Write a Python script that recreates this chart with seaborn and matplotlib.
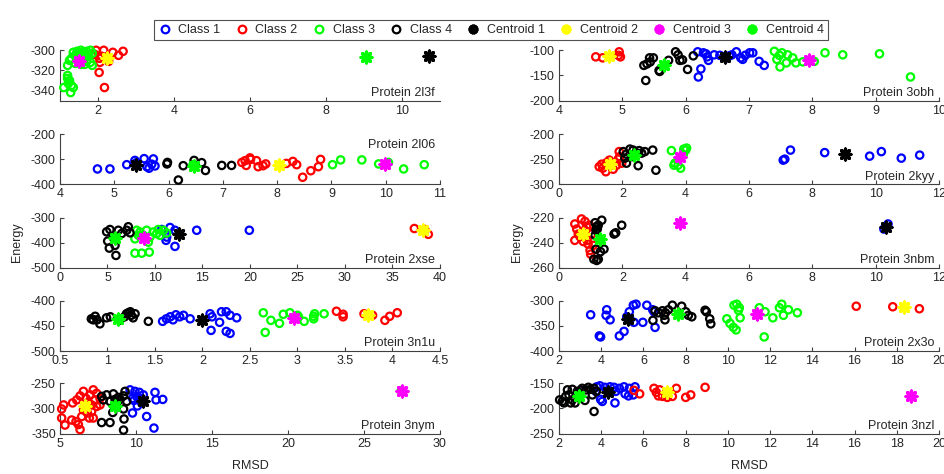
import numpy as np
import pandas as pd
import matplotlib
matplotlib.use("Agg")
import matplotlib.pyplot as plt
from matplotlib.lines import Line2D
from matplotlib.ticker import FuncFormatter
import seaborn as sns

sns.set_style("ticks")
plt.rcParams['font.family'] = ['Liberation Sans', 'DejaVu Sans']
plt.rcParams['axes.unicode_minus'] = False

# class colours and centroid colours, as in the legend
class_colors = ["#0000ff", "#ff0000", "#00ff00", "#000000"]
cent_colors = ["#000000", "#ffff00", "#ff00ff", "#00ff00"]

# ---- Protein 2l3f ----
x_2l3f = {2: [2.15, 2.39, 2.54, 2.66, 2.04, 2.28, 2.03, 2.17, 1.91, 2.05, 2.1, 1.95],
          3: [1.35, 1.45, 1.55, 1.6, 1.7, 1.8, 1.85, 1.4, 1.5, 1.65, 1.75, 1.3, 1.45, 1.6, 1.7, 1.8,
              1.85, 1.55, 1.25, 1.2, 1.4, 1.65, 1.75, 1.5, 1.2, 1.25, 1.22, 1.3, 1.35, 1.1, 1.28, 1.2]}
y_2l3f = {2: [-300, -302, -305, -301, -308, -311, -322, -337, -304, -312, -306, -300],
          3: [-302, -301, -300, -302, -301, -300, -303, -305, -306, -305, -306, -308, -310, -309, -311, -312,
              -315, -314, -310, -315, -313, -314, -304, -303, -325, -330, -333, -335, -337, -337, -342, -328]}
cent_2l3f = [(10.72, -305.7), (2.23, -308), (1.51, -311), (9.05, -307)]

# ---- Protein 2l06 ----
x_2l06 = {1: [4.69, 4.92, 5.23, 5.38, 5.55, 5.72, 5.64, 5.75, 5.69, 5.6, 5.41],
          2: [7.35, 7.43, 7.5, 7.62, 7.65, 7.74, 7.79, 7.51, 8.17, 8.29, 8.36, 8.47, 8.62, 8.76, 8.8, 7.41],
          3: [9.02, 9.17, 9.56, 9.87, 10.05, 10.33, 10.71, 6.45],
          4: [5.98, 5.97, 6.18, 6.27, 6.47, 6.61, 6.68, 6.98, 7.16]}
y_2l06 = {1: [-339, -339, -322, -305, -298, -299, -336, -327, -320, -330, -314],
          2: [-313, -325, -295, -306, -330, -326, -319, -301, -317, -309, -322, -372, -346, -330, -301, -306],
          3: [-322, -303, -303, -319, -313, -339, -322, -322],
          4: [-313, -319, -383, -326, -305, -314, -345, -325, -325]}
cent_2l06 = [(5.4, -322), (8.04, -322), (9.99, -319), (6.47, -326)]

# ---- Protein 2xse ----
x_2xse = {1: [10.7, 11.16, 11.58, 12.1, 11.16, 12.1, 14.39, 19.93, 11.23],
          2: [37.3, 38.77, 38.4],
          3: [8.07, 8.42, 7.89, 8.77, 9.12, 9.47, 9.82, 10.18, 10.53, 10.88, 11.23, 9.3, 7.89, 8.6, 9.4,
              8.25, 10.35],
          4: [4.91, 5.26, 5.61, 6.14, 6.49, 5.02, 5.19, 5.79, 5.89, 7.19, 7.37, 7.02, 5.79]}
y_2xse = {1: [-347, -363, -339, -350, -390, -414, -350, -350, -377],
          2: [-343, -366, -347],
          3: [-350, -357, -384, -370, -350, -377, -357, -363, -370, -350, -361, -397, -441, -441, -437,
              -370, -347],
          4: [-356, -347, -379, -350, -363, -393, -421, -410, -450, -336, -360, -350, -377]}
cent_2xse = [(12.56, -366), (38.25, -350), (8.84, -379), (5.79, -379)]

# ---- Protein 3n1u ----
x_3n1u = {1: [1.58, 1.66, 1.69, 1.72, 1.76, 1.8, 1.87, 2.08, 2.1, 2.2, 2.25, 2.29, 2.36, 2.18, 2.09,
              2.25, 2.29, 1.62],
          2: [3.41, 3.48, 3.7, 3.79, 3.92, 3.97, 4.05, 3.48],
          3: [2.64, 2.72, 2.81, 2.85, 2.92, 3.01, 3.07, 3.17, 3.18, 3.28, 2.66, 3.17, 3.0],
          4: [0.83, 0.87, 0.89, 0.92, 0.99, 1.03, 1.13, 1.18, 1.2, 1.22, 1.25, 1.27, 1.24, 1.29, 1.43, 0.85]}
y_3n1u = {1: [-441, -432, -438, -428, -432, -429, -436, -426, -432, -422, -422, -429, -434, -443, -459,
              -461, -465, -436],
          2: [-421, -432, -426, -429, -439, -431, -424, -427],
          3: [-424, -439, -445, -427, -424, -432, -441, -436, -426, -426, -463, -431, -429],
          4: [-436, -431, -438, -446, -434, -432, -439, -432, -426, -424, -429, -434, -422, -426, -441, -438]}
cent_3n1u = [(2.0, -439), (3.74, -429), (2.96, -434), (1.11, -436)]

# ---- Protein 3nym ----
x_3nym = {1: [9.61, 9.93, 10.22, 9.77, 9.87, 10.04, 10.26, 10.37, 10.09, 9.77, 10.7, 11.25, 11.32,
              11.76, 11.18, 10.48],
          2: [5.11, 5.24, 5.11, 5.33, 5.77, 6.05, 6.32, 6.21, 5.83, 6.1, 6.32, 6.54, 6.71, 6.86, 6.99,
              7.19, 7.41, 7.63, 7.41, 7.08, 6.8, 7.19, 6.93, 6.54, 6.43, 7.63, 7.3, 6.64, 7.08],
          3: [27.45],
          4: [7.74, 8.07, 8.51, 8.84, 9.18, 9.28, 9.39, 7.85, 8.29, 8.62, 7.74, 8.29, 8.47, 9.18, 9.21,
              9.18, 8.73, 8.95]}
y_3nym = {1: [-263, -266, -268, -280, -284, -276, -282, -289, -295, -309, -316, -268, -283, -282, -339, -273],
          2: [-301, -293, -319, -333, -323, -326, -342, -332, -289, -283, -275, -266, -280, -288, -273,
              -263, -270, -280, -296, -306, -309, -319, -319, -303, -316, -293, -283, -296, -293],
          3: [-265],
          4: [-276, -273, -271, -278, -275, -266, -286, -283, -286, -282, -328, -328, -308, -301, -321,
              -343, -288, -282]}
cent_3nym = [(10.48, -286), (6.64, -295), (27.48, -265), (8.62, -295)]

# ---- Protein 3obh ----
x_3obh = {1: [6.19, 6.28, 6.34, 6.36, 6.45, 6.54, 6.6, 6.69, 6.73, 6.8, 6.9, 6.94, 7.01, 7.06, 7.16,
              7.24, 6.24, 6.2, 6.87, 6.32, 6.65],
          2: [4.58, 4.69, 4.94, 4.95, 4.97],
          3: [7.4, 7.44, 7.48, 7.52, 7.59, 7.61, 7.69, 7.74, 7.85, 8.03, 8.2, 8.48, 9.06, 9.55, 7.49],
          4: [5.34, 5.39, 5.43, 5.49, 5.37, 5.58, 5.59, 5.73, 5.84, 5.88, 5.91, 5.95, 6.03, 6.12, 5.44]}
y_3obh = {1: [-103, -105, -113, -120, -109, -110, -113, -111, -109, -103, -118, -110, -105, -105, -122,
              -130, -137, -153, -115, -107, -115],
          2: [-113, -115, -110, -103, -113],
          3: [-102, -118, -110, -105, -125, -109, -115, -125, -123, -122, -105, -109, -107, -153, -133],
          4: [-130, -127, -115, -115, -160, -140, -142, -120, -103, -109, -120, -119, -138, -111, -123]}
cent_3obh = [(6.62, -113), (4.79, -111), (7.95, -120), (5.66, -129)]

# ---- Protein 2kyy ----
x_2kyy = {1: [7.08, 7.13, 7.31, 8.39, 9.81, 10.18, 10.81, 11.39],
          2: [1.27, 1.35, 1.5, 1.48, 1.61, 1.71, 1.82, 1.87, 1.92, 1.9, 1.98, 1.38, 1.59],
          3: [3.55, 3.63, 3.76, 3.84, 3.94, 4.0, 3.92, 3.66, 4.03],
          4: [2.03, 2.13, 2.24, 2.34, 2.43, 2.53, 2.61, 2.71, 2.96, 2.5, 3.06, 2.13, 2.29, 2.08]}
y_2kyy = {1: [-252, -250, -232, -237, -244, -235, -248, -242],
          2: [-265, -260, -257, -275, -263, -270, -262, -250, -245, -235, -258, -268, -252],
          3: [-233, -262, -262, -268, -230, -232, -242, -258, -228],
          4: [-235, -240, -230, -232, -237, -233, -238, -235, -232, -263, -272, -258, -245, -248]}
cent_2kyy = [(9.02, -240), (1.61, -260), (3.82, -245), (2.37, -242)]

# ---- Protein 3nbm ----
x_3nbm = {1: [10.26, 10.39],
          2: [0.5, 0.56, 0.61, 0.71, 0.82, 0.87, 0.96, 0.89, 0.92, 0.98, 1.0, 1.08, 1.03, 0.82, 0.66,
              0.77, 0.5],
          4: [1.14, 1.19, 1.17, 1.14, 1.35, 1.24, 1.21, 1.17, 1.31, 1.42, 1.1, 1.19, 1.24, 1.79, 1.98, 1.74]}
y_3nbm = {1: [-229, -225],
          2: [-225, -229, -233, -221, -223, -227, -226, -238, -241, -246, -249, -242, -233, -230, -235,
              -239, -238],
          4: [-224, -227, -230, -234, -222, -226, -229, -245, -247, -245, -253, -254, -253, -232, -226, -233]}
cent_3nbm = [(10.32, -227), (0.77, -233), (3.82, -224), (1.31, -237)]

# ---- Protein 2x3o ----
x_2x3o = {1: [3.5, 3.91, 3.97, 4.26, 4.23, 4.42, 4.86, 5.08, 5.33, 5.52, 5.65, 5.97, 6.16, 6.44, 6.5,
              6.55, 5.36, 5.55, 5.21],
          2: [16.08, 17.81, 19.07],
          3: [9.95, 10.1, 10.26, 10.39, 10.29, 10.42, 10.54, 10.58, 11.49, 11.76, 12.13, 12.44, 12.55,
              12.63, 12.87, 13.29, 11.72, 10.5],
          4: [6.55, 6.45, 6.71, 6.9, 6.98, 7.02, 7.18, 7.37, 7.81, 8.0, 8.13, 8.29, 8.92, 8.98, 9.14,
              9.19, 7.04]}
y_2x3o = {1: [-328, -370, -372, -318, -329, -338, -370, -361, -322, -309, -307, -343, -309, -318, -322,
              -353, -338, -343, -332],
          2: [-311, -312, -316],
          3: [-336, -345, -353, -358, -309, -307, -314, -334, -314, -322, -334, -314, -307, -329, -318,
              -324, -372, -319],
          4: [-320, -339, -324, -320, -329, -338, -318, -309, -311, -322, -329, -332, -319, -322, -336,
              -346, -324]}
cent_2x3o = [(5.29, -336), (18.35, -312), (11.4, -326), (7.65, -326)]

# ---- Protein 3nzl ----
x_3nzl = {1: [3.79, 3.94, 4.18, 4.42, 4.61, 4.86, 5.08, 5.33, 5.6, 5.13, 5.29, 5.52, 3.75, 3.97, 4.05,
              4.65, 4.69],
          2: [5.55, 5.82, 6.5, 6.61, 6.71, 6.9, 7.13, 7.37, 7.56, 8.0, 8.24, 8.92, 6.77],
          4: [2.03, 2.16, 2.32, 2.47, 2.63, 2.76, 2.87, 3.03, 3.1, 3.27, 3.39, 3.5, 3.66, 3.77, 2.4, 2.63,
              3.23, 3.58, 3.66, 2.24, 2.55]}
y_3nzl = {1: [-157, -155, -158, -157, -158, -160, -157, -160, -157, -171, -175, -173, -166, -182, -186,
              -189, -166],
          2: [-164, -171, -160, -168, -175, -176, -178, -176, -160, -178, -173, -158, -163],
          4: [-183, -186, -176, -173, -183, -189, -166, -164, -160, -163, -158, -162, -160, -166, -163,
              -162, -184, -173, -206, -189, -189]}
cent_3nzl = [(4.34, -168), (7.13, -168), (18.67, -175), (2.95, -175)]

panels = [
    # name, xs, ys, centroids, col, row, xlim, xstep, ylim, ystep, label at top?
    ("2l3f", x_2l3f, y_2l3f, cent_2l3f, 0, 0, (1, 11), 2, (-350, -300), 20, False),
    ("2l06", x_2l06, y_2l06, cent_2l06, 0, 1, (4, 11), 1, (-400, -200), 100, True),
    ("2xse", x_2xse, y_2xse, cent_2xse, 0, 2, (0, 40), 5, (-500, -300), 100, False),
    ("3n1u", x_3n1u, y_3n1u, cent_3n1u, 0, 3, (0.5, 4.5), 0.5, (-500, -400), 50, False),
    ("3nym", x_3nym, y_3nym, cent_3nym, 0, 4, (5, 30), 5, (-350, -250), 50, False),
    ("3obh", x_3obh, y_3obh, cent_3obh, 1, 0, (4, 10), 1, (-200, -100), 50, False),
    ("2kyy", x_2kyy, y_2kyy, cent_2kyy, 1, 1, (0, 12), 2, (-300, -200), 50, False),
    ("3nbm", x_3nbm, y_3nbm, cent_3nbm, 1, 2, (0, 12), 2, (-260, -220), 20, False),
    ("2x3o", x_2x3o, y_2x3o, cent_2x3o, 1, 3, (2, 20), 2, (-400, -300), 50, False),
    ("3nzl", x_3nzl, y_3nzl, cent_3nzl, 1, 4, (2, 20), 2, (-250, -150), 50, False),
]

W, H = 945, 474
fig = plt.figure(figsize=(W / 100, H / 100), dpi=100)

col_left = [60, 559]
ax_w = 380
row_top = [50.3, 134, 217.7, 300.7, 383.3]
ax_h = 50.3

axis_col = "#404040"
fmt = FuncFormatter(lambda v, p: "%g" % v)

for name, xs, ys, cents, col, row, xlim, xstep, ylim, ystep, top in panels:
    rect = [col_left[col] / W, 1 - (row_top[row] + ax_h) / H, ax_w / W, ax_h / H]
    ax = fig.add_axes(rect)

    for k in [1, 2, 3, 4]:
        if k in xs:
            sns.scatterplot(x=xs[k], y=ys[k], ax=ax, marker="o", s=28, color=class_colors[k - 1],
                            facecolor="none", edgecolor=class_colors[k - 1], linewidth=1.6,
                            clip_on=False, zorder=3)
    for k, (cx, cy) in enumerate(cents):
        sns.scatterplot(x=[cx], y=[cy], ax=ax, marker=(8, 2, 0), s=60, color=cent_colors[k],
                        linewidth=2.4, clip_on=False, zorder=4)

    ax.set_xlim(*xlim)
    ax.set_ylim(*ylim)
    ax.set_xticks(np.arange(np.ceil(xlim[0] / xstep) * xstep, xlim[1] + 1e-9, xstep))
    ax.set_yticks(np.arange(np.ceil(ylim[0] / ystep) * ystep, ylim[1] + 1e-9, ystep))
    ax.xaxis.set_major_formatter(fmt)
    ax.yaxis.set_major_formatter(fmt)
    sns.despine(ax=ax)
    for sp in ["left", "bottom"]:
        ax.spines[sp].set_color(axis_col)
        ax.spines[sp].set_linewidth(0.8)
    ax.tick_params(direction="in", length=3, width=0.8, colors=axis_col, labelsize=9,
                   labelcolor="#262626", pad=3)

    if top:
        ax.text(0.987, 0.72, "Protein " + name, transform=ax.transAxes, ha="right",
                va="baseline", fontsize=9, color="#262626")
    else:
        ax.text(0.987, 0.09, "Protein " + name, transform=ax.transAxes, ha="right",
                va="baseline", fontsize=9, color="#262626")

fig.text(17 / W, 1 - 242.5 / H, "Energy", rotation=90, ha="center", va="center", fontsize=9,
         color="#262626")
fig.text(517 / W, 1 - 242.5 / H, "Energy", rotation=90, ha="center", va="center", fontsize=9,
         color="#262626")
fig.text(250 / W, 1 - 466 / H, "RMSD", ha="center", va="center", fontsize=9, color="#262626")
fig.text(749 / W, 1 - 466 / H, "RMSD", ha="center", va="center", fontsize=9, color="#262626")

handles = []
labels = []
for k in range(4):
    handles.append(Line2D([], [], ls="none", marker="o", ms=5.5, mfc="none", mec=class_colors[k], mew=1.6))
    labels.append("Class %d" % (k + 1))
for k in range(4):
    handles.append(Line2D([], [], ls="none", marker=(8, 2, 0), ms=7, color=cent_colors[k], mew=2.4))
    labels.append("Centroid %d" % (k + 1))

leg = fig.legend(handles, labels, loc="center", bbox_to_anchor=(491 / W, 1 - 30 / H), ncol=8,
                 fontsize=9, frameon=True, fancybox=False, edgecolor="#262626",
                 handlelength=1.0, handletextpad=0.6, columnspacing=1.2, borderpad=0.35)
leg.get_frame().set_linewidth(0.8)

fig.savefig("out.png", dpi=100)
